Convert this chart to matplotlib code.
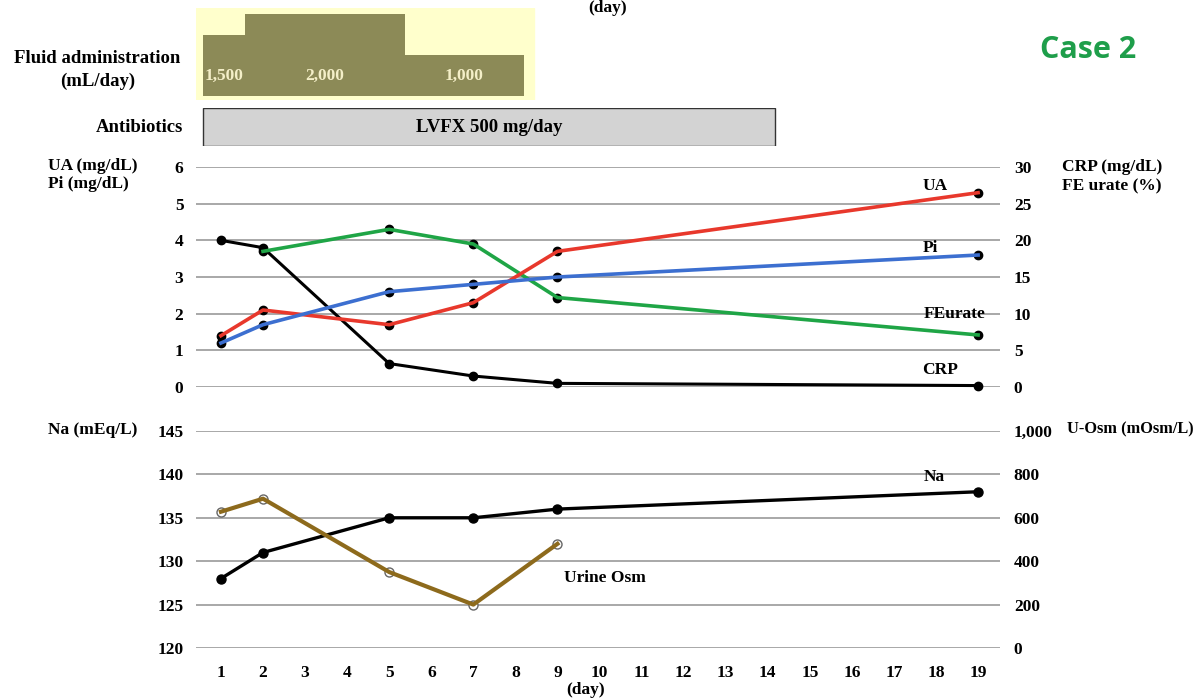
import matplotlib
matplotlib.use('Agg')
import matplotlib.pyplot as plt
from matplotlib.ticker import FuncFormatter

plt.rcParams['font.family'] = ['Liberation Serif', 'DejaVu Serif']
plt.rcParams['font.weight'] = 'bold'

# data
days = list(range(1, 20))
lab_days = [1, 2, 5, 7, 9, 19]
ua = [1.4, 2.1, 1.7, 2.3, 3.7, 5.3]
pi = [1.2, 1.7, 2.6, 2.8, 3.0, 3.6]
fe_days = [2, 5, 7, 9, 19]
fe_urate = [18.5, 21.5, 19.5, 12.2, 7.1]
crp = [20.0, 19.0, 3.2, 1.5, 0.5, 0.2]
na = [128, 131, 135, 135, 136, 138]
osm_days = [1, 2, 5, 7, 9]
urine_osm = [628, 688, 350, 200, 480]

fluid_edges = [0.57, 1.57, 5.37, 8.2]
fluid_vol = [1500, 2000, 1000]
fluid_labels = ['1,500', '2,000', '1,000']
abx_span = (0.57, 14.17)

xmin, xmax = 0.406, 19.52

fig = plt.figure(figsize=(12, 7), dpi=100)
grid_c = '#9a9a9a'

# fluid panel
fl = fig.add_axes([0.1633, 0.857, 0.67, 0.1314])
fl.set_xlim(xmin, xmax)
fl.set_ylim(-98, 2146)
fl.axvspan(xmin, 8.44, color='#FFFFCC', zorder=0)
for i in range(len(fluid_vol)):
    w = fluid_edges[i + 1] - fluid_edges[i]
    fl.bar(fluid_edges[i], fluid_vol[i], width=w, align='edge', bottom=0,
           color='#8C8A57', zorder=1)
    fl.text(fluid_edges[i] + w / 2, 500, fluid_labels[i], color='#F4EFC8',
            ha='center', va='center', fontsize=12.5)
fl.axis('off')

# antibiotics panel
ab = fig.add_axes([0.1633, 0.7914, 0.67, 0.0543])
ab.set_xlim(xmin, xmax)
ab.set_ylim(0, 1)
ab.barh(0.5, abx_span[1] - abx_span[0], left=abx_span[0], height=1.0,
        color='#D3D3D3', edgecolor='#333333', linewidth=1)
ab.text(sum(abx_span) / 2, 0.5, 'LVFX 500 mg/day', ha='center', va='center', fontsize=13.5)
ab.axis('off')


def style(ax):
    for s in ax.spines.values():
        s.set_visible(False)
    ax.tick_params(length=0, labelsize=12.5)


# top panel
ax1 = fig.add_axes([0.1633, 0.4471, 0.67, 0.3143])
ax1.set_xlim(xmin, xmax)
ax1.set_ylim(0, 6)
ax1.set_yticks(range(0, 7))
ax1.yaxis.grid(True, color=grid_c, lw=1.2)
ax1.set_axisbelow(True)
ax1.set_xticks([])
style(ax1)
ax1.tick_params(axis='y', pad=9)
ax1r = ax1.twinx()
ax1r.set_ylim(0, 30)
ax1r.set_yticks(range(0, 31, 5))
style(ax1r)
ax1r.tick_params(axis='y', pad=10)

ax1r.plot(lab_days, crp, color='black', lw=2.2, marker='o', ms=6, clip_on=False)
ax1r.plot(fe_days, fe_urate, 'k--', lw=1, marker='o', ms=6, clip_on=False)
ax1r.plot(fe_days, fe_urate, color='#1FA546', lw=2.6, clip_on=False)
ax1r.plot(lab_days, ua, 'k--', lw=1, marker='o', ms=6, clip_on=False, transform=ax1.transData)
ax1r.plot(lab_days, ua, color='#E8382C', lw=2.6, clip_on=False, transform=ax1.transData)
ax1r.plot(lab_days, pi, 'k--', lw=1, marker='o', ms=6, clip_on=False, transform=ax1.transData)
ax1r.plot(lab_days, pi, color='#3C6FD0', lw=2.6, clip_on=False, transform=ax1.transData)

ax1.text(17.98, 5.48, 'UA', fontsize=12.5, ha='center', va='center')
ax1.text(17.86, 3.79, 'Pi', fontsize=12.5, ha='center', va='center')
ax1.text(18.45, 1.99, 'FEurate', fontsize=12.5, ha='center', va='center')
ax1.text(18.1, 0.46, 'CRP', fontsize=12.5, ha='center', va='center')

# bottom panel
ax2 = fig.add_axes([0.1633, 0.0743, 0.67, 0.31])
ax2.set_xlim(xmin, xmax)
ax2.set_ylim(120, 145)
ax2.set_yticks(range(120, 146, 5))
ax2.set_xticks(days)
ax2.yaxis.grid(True, color=grid_c, lw=1.2)
ax2.set_axisbelow(True)
style(ax2)
ax2.tick_params(axis='y', pad=9)
ax2.tick_params(axis='x', pad=12)
ax2r = ax2.twinx()
ax2r.set_ylim(0, 1000)
ax2r.set_yticks(range(0, 1001, 200))
ax2r.yaxis.set_major_formatter(FuncFormatter(lambda v, p: f'{int(v):,}'))
style(ax2r)
ax2r.tick_params(axis='y', pad=10)

ax2r.plot(lab_days, na, color='black', lw=2.4, marker='o', ms=6.5, clip_on=False,
          transform=ax2.transData)
ax2r.plot(osm_days, urine_osm, linestyle='none', marker='o', ms=6.5, mfc='white',
          mec='#666666', clip_on=False)
ax2r.plot(osm_days, urine_osm, color='#8D6A1C', lw=3, clip_on=False)

ax2.text(17.95, 139.7, 'Na', fontsize=12.5, ha='center', va='center')
ax2.text(10.13, 128.1, 'Urine Osm', fontsize=12.5, ha='center', va='center')

# labels around
fig.text(0.081, 0.9, 'Fluid administration\n(mL/day)', ha='center', va='center',
         fontsize=13.5, linespacing=1.45)
fig.text(0.1525, 0.818, 'Antibiotics', ha='right', va='center', fontsize=13.5)
fig.text(0.04, 0.775, 'UA (mg/dL)\nPi (mg/dL)', ha='left', va='top', fontsize=12.5,
         linespacing=1.25)
fig.text(0.885, 0.773, 'CRP (mg/dL)\nFE urate (%)', ha='left', va='top', fontsize=12.5,
         linespacing=1.25)
fig.text(0.04, 0.386, 'Na (mEq/L)', ha='left', va='center', fontsize=12.5)
fig.text(0.889, 0.386, 'U-Osm (mOsm/L)', ha='left', va='center', fontsize=11.8)
fig.text(0.488, 0.014, '(day)', ha='center', va='center', fontsize=12.5)
fig.text(0.506, 1.0, '(day)', ha='center', va='top', fontsize=12.5)
fig.text(0.907, 0.928, 'Case 2', ha='center', va='center', fontsize=22,
         color='#1E9E4A', family=['Open Sans', 'DejaVu Sans'], weight='bold')

fig.savefig('out.png', dpi=100, facecolor='white')
